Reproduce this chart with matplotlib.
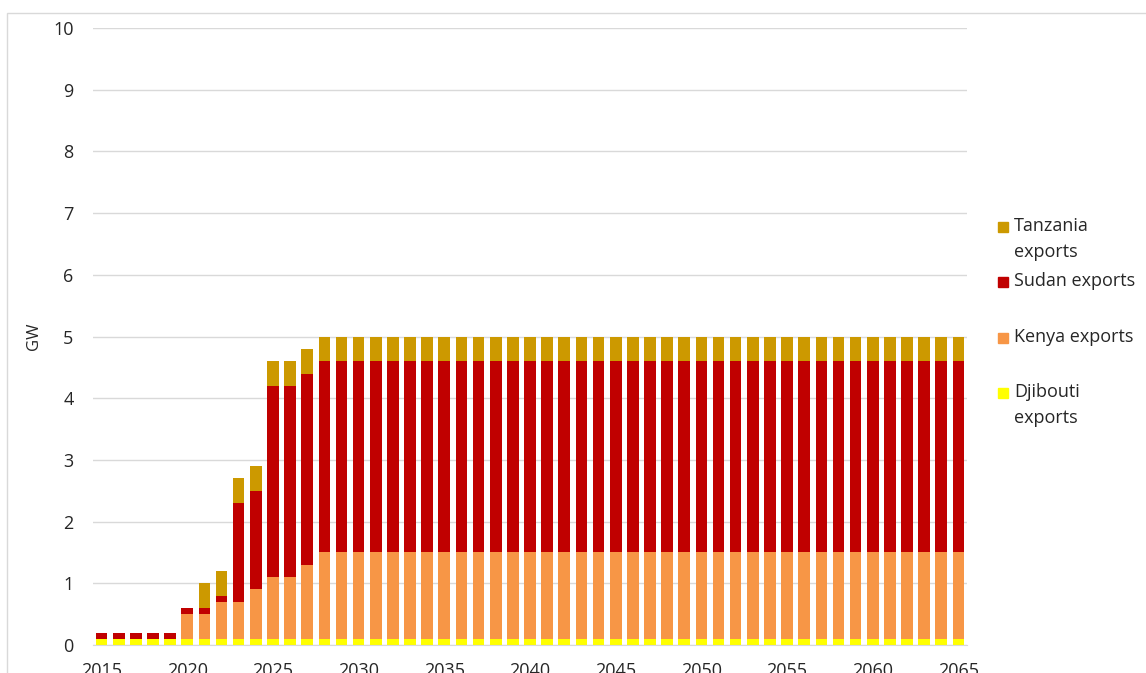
#!/usr/bin/env python3
"""Stacked bar chart of electricity exports (GW) by destination, 2015-2065."""
import matplotlib.pyplot as plt
from matplotlib.patches import Rectangle

plt.rcParams["font.family"] = ["Open Sans", "DejaVu Sans"]

years = list(range(2015, 2066))

# segment heights in GW, one value per year 2015..2065
djibouti = [
    0.1, 0.1, 0.1, 0.1, 0.1, 0.1, 0.1, 0.1, 0.1, 0.1,
    0.1, 0.1, 0.1, 0.1, 0.1, 0.1, 0.1, 0.1, 0.1, 0.1,
    0.1, 0.1, 0.1, 0.1, 0.1, 0.1, 0.1, 0.1, 0.1, 0.1,
    0.1, 0.1, 0.1, 0.1, 0.1, 0.1, 0.1, 0.1, 0.1, 0.1,
    0.1, 0.1, 0.1, 0.1, 0.1, 0.1, 0.1, 0.1, 0.1, 0.1,
    0.1,
]
kenya = [
    0.0, 0.0, 0.0, 0.0, 0.0, 0.4, 0.4, 0.6, 0.6, 0.8,
    1.0, 1.0, 1.2, 1.4, 1.4, 1.4, 1.4, 1.4, 1.4, 1.4,
    1.4, 1.4, 1.4, 1.4, 1.4, 1.4, 1.4, 1.4, 1.4, 1.4,
    1.4, 1.4, 1.4, 1.4, 1.4, 1.4, 1.4, 1.4, 1.4, 1.4,
    1.4, 1.4, 1.4, 1.4, 1.4, 1.4, 1.4, 1.4, 1.4, 1.4,
    1.4,
]
sudan = [
    0.1, 0.1, 0.1, 0.1, 0.1, 0.1, 0.1, 0.1, 1.6, 1.6,
    3.1, 3.1, 3.1, 3.1, 3.1, 3.1, 3.1, 3.1, 3.1, 3.1,
    3.1, 3.1, 3.1, 3.1, 3.1, 3.1, 3.1, 3.1, 3.1, 3.1,
    3.1, 3.1, 3.1, 3.1, 3.1, 3.1, 3.1, 3.1, 3.1, 3.1,
    3.1, 3.1, 3.1, 3.1, 3.1, 3.1, 3.1, 3.1, 3.1, 3.1,
    3.1,
]
tanzania = [
    0.0, 0.0, 0.0, 0.0, 0.0, 0.0, 0.4, 0.4, 0.4, 0.4,
    0.4, 0.4, 0.4, 0.4, 0.4, 0.4, 0.4, 0.4, 0.4, 0.4,
    0.4, 0.4, 0.4, 0.4, 0.4, 0.4, 0.4, 0.4, 0.4, 0.4,
    0.4, 0.4, 0.4, 0.4, 0.4, 0.4, 0.4, 0.4, 0.4, 0.4,
    0.4, 0.4, 0.4, 0.4, 0.4, 0.4, 0.4, 0.4, 0.4, 0.4,
    0.4,
]

series = [
    ("Djibouti\nexports", djibouti, "#FFFF00"),
    ("Kenya exports", kenya, "#F79646"),
    ("Sudan exports", sudan, "#C00000"),
    ("Tanzania\nexports", tanzania, "#CC9900"),
]

W, H = 1146, 673
fig = plt.figure(figsize=(W / 100, H / 100), dpi=100)
ax = fig.add_axes([93 / W, 1 - 645 / H, (967 - 93) / W, (645 - 28) / H])

bottom = [0.0] * len(years)
for label, vals, color in series:
    ax.bar(years, vals, width=0.68, bottom=bottom, color=color, zorder=2)
    bottom = [b + v for b, v in zip(bottom, vals)]

ax.set_xlim(2014.5, 2065.5)
ax.set_ylim(0, 10)
ax.set_yticks(range(0, 11))
ax.set_xticks(range(2015, 2066, 5))
ax.tick_params(axis="both", length=0, labelsize=13, colors="#262626")
ax.tick_params(axis="y", pad=14)
ax.tick_params(axis="x", pad=12)
ax.grid(axis="y", color="#d9d9d9", linewidth=1, zorder=0)
for side in ["top", "right", "left"]:
    ax.spines[side].set_visible(False)
ax.spines["bottom"].set_color("#d9d9d9")
ax.set_ylabel("GW", fontsize=12, color="#262626", labelpad=8)

# legend, top entry first, as in the source chart
for i, (label, vals, color) in enumerate(reversed(series)):
    y = 1 - (227 + 55.3 * i) / H
    fig.patches.append(Rectangle((998 / W, y - 5 / H), 10 / W, 10 / H,
                                 transform=fig.transFigure, color=color))
    fig.text(1014 / W, y + 10 / H, label, fontsize=13, color="#262626",
             va="top", linespacing=1.55)

# chart-area border
fig.patches.append(Rectangle((6.5 / W, -0.1), 1.2, 1.1 - 13.5 / H,
                             transform=fig.transFigure, fill=False,
                             edgecolor="#d9d9d9", linewidth=1))

fig.savefig("out.png", dpi=100)
